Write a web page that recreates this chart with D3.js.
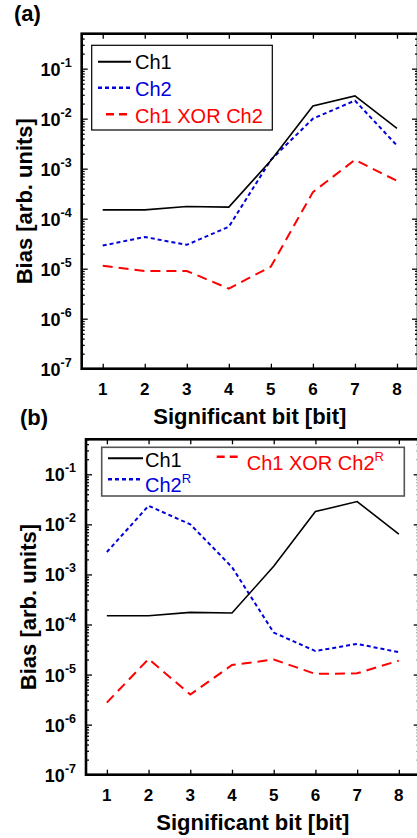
<!DOCTYPE html>
<html>
<head>
<meta charset="utf-8">
<script src="https://cdn.jsdelivr.net/npm/d3@7"></script>
<style>
  body { margin: 0; background: #fff; }
  svg text { font-family: "Liberation Sans", Arial, sans-serif; }
</style>
</head>
<body>
<svg id="chart" width="417" height="838"></svg>
<script>
// values (bias, log scale)
var bits = [1, 2, 3, 4, 5, 6, 7, 8];
var ch1 = [1.5e-4, 1.5e-4, 1.75e-4, 1.7e-4, 1.45e-3, 1.8e-2, 2.85e-2, 6.4e-3];
var ch2 = [2.9e-5, 4.3e-5, 3.0e-5, 6.9e-5, 1.5e-3, 1.0e-2, 2.3e-2, 2.9e-3];
var xorA = [1.15e-5, 9e-6, 9e-6, 4e-6, 1.1e-5, 3.4e-4, 1.5e-3, 5.7e-4];
var ch2R = [2.8e-3, 2.35e-2, 1.0e-2, 1.4e-3, 6.9e-5, 2.95e-5, 4.1e-5, 2.8e-5];
var xorB = [2.75e-6, 2.05e-5, 4e-6, 1.55e-5, 2e-5, 1.03e-5, 1.06e-5, 1.9e-5];
var yExps = [-7, -6, -5, -4, -3, -2, -1];

var svg = d3.select("#chart");

var styles = {
  ch1: { color: "#000", width: 1.6, dash: null },
  ch2: { color: "#0000dd", width: 2, dash: "4,3" },
  xor: { color: "#ff0000", width: 2, dash: "10,6" }
};

function drawPanel(p) {
  var g = svg.append("g").attr("transform", "translate(" + p.left + "," + p.top + ")");

  var x = d3.scaleLinear().domain([0.5, 8.5]).range([0, p.w]);
  var y = d3.scaleLog().domain([1e-7, 0.5]).range([p.h, 0]);

  var allTicks = y.ticks();
  var majors = allTicks.filter(function(d){ return Math.abs(Math.log10(d) - Math.round(Math.log10(d))) < 1e-6; });
  var minors = allTicks.filter(function(d){ return majors.indexOf(d) < 0; });

  // inward ticks on all four sides
  g.append("g").call(d3.axisLeft(y).tickValues(majors).tickSize(-6).tickFormat(""));
  g.append("g").call(d3.axisLeft(y).tickValues(minors).tickSize(-3).tickFormat(""));
  g.append("g").attr("transform", "translate(" + p.w + ",0)")
    .call(d3.axisRight(y).tickValues(majors).tickSize(-6).tickFormat(""));
  g.append("g").attr("transform", "translate(" + p.w + ",0)")
    .call(d3.axisRight(y).tickValues(minors).tickSize(-3).tickFormat(""));
  g.append("g").attr("transform", "translate(0," + p.h + ")")
    .call(d3.axisBottom(x).tickValues(bits).tickSize(-5).tickFormat(""));
  g.append("g").call(d3.axisTop(x).tickValues(bits).tickSize(-5).tickFormat(""));
  g.selectAll(".domain").remove();
  g.selectAll(".tick line").attr("stroke", "#000").attr("stroke-width", 1.3);

  g.append("rect").attr("width", p.w).attr("height", p.h)
    .attr("fill", "none").attr("stroke", "#000").attr("stroke-width", 2.6);

  // y tick labels 10^n
  yExps.forEach(function(e) {
    var t = g.append("text")
      .attr("x", -10).attr("y", y(Math.pow(10, e)) + 7)
      .attr("text-anchor", "end")
      .attr("font-weight", "bold");
    t.append("tspan").attr("font-size", 18).text("10");
    t.append("tspan").attr("font-size", 12.5).attr("dy", -9).text("-" + Math.abs(e));
  });

  // x tick labels
  g.selectAll(".xlab").data(bits).enter().append("text")
    .attr("x", function(d){ return x(d); })
    .attr("y", p.h + 26)
    .attr("text-anchor", "middle")
    .attr("font-size", 17).attr("font-weight", "bold")
    .text(function(d){ return d; });

  g.append("text")
    .attr("x", p.w / 2).attr("y", p.h + 55)
    .attr("text-anchor", "middle")
    .attr("font-size", 22).attr("font-weight", "bold")
    .text("Significant bit [bit]");

  g.append("text")
    .attr("transform", "translate(" + p.ytx + "," + (p.h / 2) + ") rotate(-90)")
    .attr("text-anchor", "middle")
    .attr("font-size", 22).attr("font-weight", "bold")
    .text("Bias [arb. units]");

  var line = d3.line()
    .x(function(d){ return x(d[0]); })
    .y(function(d){ return y(d[1]); });

  p.series.forEach(function(s) {
    var st = styles[s.style];
    g.append("path")
      .datum(d3.zip(bits, s.values))
      .attr("d", line)
      .attr("fill", "none")
      .attr("stroke", st.color)
      .attr("stroke-width", st.width)
      .attr("stroke-dasharray", st.dash);
  });

  svg.append("text")
    .attr("x", p.labelX).attr("y", p.labelY)
    .attr("font-size", 22).attr("font-weight", "bold")
    .text(p.label);
}

function drawLegend(box, items, stroke, sw) {
  svg.append("rect")
    .attr("x", box[0]).attr("y", box[1]).attr("width", box[2]).attr("height", box[3])
    .attr("fill", "#fff").attr("stroke", stroke).attr("stroke-width", sw);
  items.forEach(function(it) {
    var st = styles[it.style];
    svg.append("line")
      .attr("x1", it.lx[0]).attr("x2", it.lx[1]).attr("y1", it.ly).attr("y2", it.ly)
      .attr("stroke", st.color).attr("stroke-width", st.width + 0.4)
      .attr("stroke-dasharray", it.style == "xor" ? "8,5" : st.dash);
    var t = svg.append("text")
      .attr("x", it.tx).attr("y", it.ty)
      .attr("font-size", 20).attr("fill", st.color);
    t.append("tspan").text(it.text);
    if (it.sup) t.append("tspan").attr("font-size", 13).attr("dy", -9).text(it.sup);
  });
}

drawPanel({
  left: 81.7, top: 33.7, w: 336.3, h: 335, ytx: -50,
  label: "(a)", labelX: 14, labelY: 21,
  series: [
    { values: xorA, style: "xor" },
    { values: ch2, style: "ch2" },
    { values: ch1, style: "ch1" }
  ]
});

drawLegend([91.7, 45.3, 180.6, 84.7], [
  { text: "Ch1", style: "ch1", lx: [98, 131], ly: 61.7, tx: 135, ty: 69.3 },
  { text: "Ch2", style: "ch2", lx: [98, 131], ly: 87.7, tx: 135, ty: 95.7 },
  { text: "Ch1 XOR Ch2", style: "xor", lx: [106, 131], ly: 114.3, tx: 135, ty: 122.7 }
], "#000", 1.2);

drawPanel({
  left: 86, top: 439.3, w: 333.7, h: 335.4, ytx: -50,
  label: "(b)", labelX: 20, labelY: 425,
  series: [
    { values: xorB, style: "xor" },
    { values: ch2R, style: "ch2" },
    { values: ch1, style: "ch1" }
  ]
});

drawLegend([101.7, 447.3, 302.6, 48.7], [
  { text: "Ch1", style: "ch1", lx: [108, 143], ly: 458.3, tx: 145, ty: 466.7 },
  { text: "Ch2", sup: "R", style: "ch2", lx: [108, 143], ly: 479.3, tx: 145, ty: 491.7 },
  { text: "Ch1 XOR Ch2", sup: "R", style: "xor", lx: [216.7, 241], ly: 456.7, tx: 246.7, ty: 470 }
], "#555", 1.6);
</script>
</body>
</html>
